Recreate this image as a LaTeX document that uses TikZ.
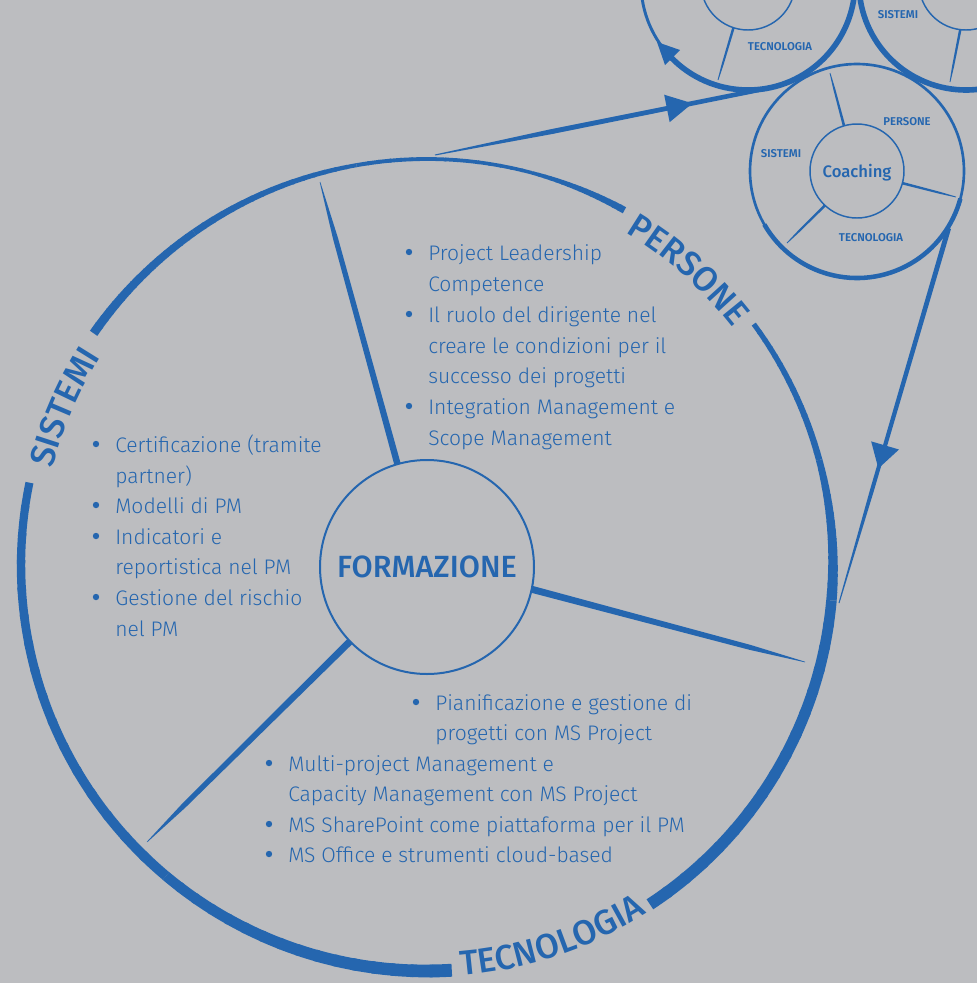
\documentclass[tikz,border=0pt]{standalone}
\usepackage{fontspec}
\usetikzlibrary{calc,decorations.text}
\IfFontExistsTF{Fira Sans Light}{\setmainfont{Fira Sans Light}}{\setmainfont{Fira Sans}}
\IfFontExistsTF{Fira Sans Medium}{\newfontfamily\medfont{Fira Sans Medium}}{\newfontfamily\medfont{Fira Sans}}
\IfFontExistsTF{Fira Sans SemiBold}{\newfontfamily\boldfont{Fira Sans SemiBold}}{\newfontfamily\boldfont{Fira Sans Bold}}
\definecolor{bgc}{RGB}{188,189,192}
\definecolor{fc}{RGB}{37,102,175}
\newcommand\ringfont{\medfont\fontsize{26}{26}\selectfont\color{fc}}
% ring piece: start angle, end angle, start width, end width (px)
\newcommand\ringpiece[4]{%
  \foreach \k in {0,...,15}{%
    \pgfmathsetmacro\sa{#1+(#2-#1)*\k/16}%
    \pgfmathsetmacro\ea{#1+(#2-#1)*min(\k+1.15,16)/16}%
    \pgfmathsetmacro\lw{0.75*(#3+(#4-#3)*(\k+0.5)/16)}%
    \draw[fc, line width=\lw pt] ($(C)+(\sa:406)$) arc[start angle=\sa, end angle=\ea, radius=406];
  }}
% tapered stroke: A, B, width at A, width at fraction f, width at B (px), f
\newcommand\taper[6]{%
  \pgfmathsetmacro\wa{0.375*#3}\pgfmathsetmacro\wm{0.375*#4}\pgfmathsetmacro\wb{0.375*#5}%
  \coordinate (M) at ($(#1)!#6!(#2)$);
  \fill[fc] ($(#1)!\wa pt!90:(#2)$) -- ($(M)!\wm pt!90:(#2)$) -- ($(#2)!\wb pt!-90:(#1)$)
    -- ($(#2)!\wb pt!90:(#1)$) -- ($(M)!\wm pt!-90:(#2)$) -- ($(#1)!\wa pt!-90:(#2)$) -- cycle;}
% arrowhead on line A-B at fraction pos, length and width in px
\newcommand\arrowtri[5]{%
  \pgfmathsetmacro\al{0.75*#4}\pgfmathsetmacro\hw{0.375*#5}%
  \coordinate (T) at ($(#1)!#3!(#2)$);
  \coordinate (Bc) at ($(T)!\al pt!(#1)$);
  \fill[fc] (T) -- ($(Bc)!\hw pt!90:(T)$) -- ($(Bc)!\hw pt!-90:(T)$) -- cycle;}
\tikzset{
  body/.style={anchor=base west, inner sep=0pt, text=fc, font=\fontsize{15.8}{23}\selectfont},
  smalllbl/.style={inner sep=0pt, text=fc, font=\boldfont\fontsize{8.5}{10}\selectfont},
  bigcircle/.style={circle, draw=fc, inner sep=0pt, outer sep=0pt},
}
\begin{document}
\begin{tikzpicture}[x=0.75pt, y=0.75pt]
\useasboundingbox (0,0) rectangle (977,-983);
\fill[bgc] (0,0) rectangle (977,-983);
\clip (0,0) rectangle (977,-983);

% ---------- big ring ----------
\coordinate (C) at (427,-565);
\ringpiece{145.2}{125}{9}{7}
\ringpiece{125}{100}{7}{4}
\ringpiece{100}{75}{4}{3.5}
\ringpiece{75}{60.9}{3.5}{7}
\ringpiece{36.4}{15}{5}{6.5}
\ringpiece{15}{-5}{6.5}{10.5}
\ringpiece{-5}{-56.7}{10.5}{12}
\ringpiece{-86.5}{-130}{13}{10}
\ringpiece{-130}{-191.7}{10}{8}

% ring labels
\path[decorate, decoration={text along path, text={|\ringfont|SISTEMI}, text align=center}]
  ($(C)+(168:387)$) arc[start angle=168, end angle=145, radius=387];
\path[decorate, decoration={text along path, text={|\ringfont|PERSONE}, text align=center}]
  ($(C)+(64:387)$) arc[start angle=64, end angle=33, radius=387];
\path[decorate, decoration={text along path, text={|\ringfont|TECNOLOGIA}, text align=center}]
  ($(C)+(-88:412)$) arc[start angle=-88, end angle=-55, radius=412];

% ---------- centre ----------
\node[bigcircle, line width=1.5pt, minimum size=160.5pt, text=fc,
      font=\medfont\fontsize{23}{23}\selectfont] (form) at (427,-567) {FORMAZIONE};
\coordinate (s1) at (320,-182);
\coordinate (s2) at (805,-662);
\coordinate (s3) at (147,-842);
\taper{form.106}{s1}{6.5}{5}{0.6}{0.8}
\taper{form.-12}{s2}{7}{5}{0.6}{0.8}
\taper{form.-136}{s3}{7}{5}{0.6}{0.82}

% ---------- text blocks ----------
\foreach \yy/\tt [count=\n] in {260/{Project Leadership}, 291/{Competence}, 322/{Il ruolo del dirigente nel},
   353/{creare le condizioni per il}, 383/{successo dei progetti}, 414/{Integration Management e}, 445/{Scope Management}}
  \node[body] (pa\n) at (428,-\yy) {\tt};
\foreach \yy/\tt [count=\n] in {452/{Certificazione (tramite}, 483/{partner)}, 513/{Modelli di PM}, 544/{Indicatori e},
   574/{reportistica nel PM}, 605/{Gestione del rischio}, 636/{nel PM}}
  \node[body] (pb\n) at (115,-\yy) {\tt};
\foreach \xx/\yy/\tt [count=\n] in {435/710/{Pianificazione e gestione di}, 435/740/{progetti con MS Project},
   288/771/{Multi-project Management e}, 288/801/{Capacity Management con MS Project},
   288/832/{MS SharePoint come piattaforma per il PM}, 288/862/{MS Office e strumenti cloud-based}}
  \node[body] (pc\n) at (\xx,-\yy) {\tt};
\foreach \xx/\yy in {409/252, 409/314, 409/406, 96/444, 96/505, 96/536, 96/597, 416/702, 269/763, 269/824, 269/854}
  \fill[fc] (\xx,-\yy) circle[radius=3.2];

% ---------- small circles ----------
% top-left
\node[bigcircle, line width=2.2pt, minimum size=160.5pt] (tlout) at (748,17) {};
\draw[fc, line width=4.2pt] ($(tlout.center)+(-142:107)$) arc[start angle=-142, end angle=15, radius=107];
\node[bigcircle, line width=1.1pt, minimum size=70.5pt] (tlin) at (748,17) {};
\coordinate (tls) at (718,-80);
\taper{tlin.-108}{tls}{2.5}{2}{0.8}{0.7}
\node[smalllbl] (tllbl) at (780,-47) {TECNOLOGIA};
\fill[fc] (657,-42) -- (680,-50) -- (665,-65) -- cycle;
% top-right
\node[bigcircle, line width=2.2pt, minimum size=160.5pt] (trout) at (966,17) {};
\draw[fc, line width=4.2pt] ($(trout.center)+(175:107)$) arc[start angle=175, end angle=300, radius=107];
\node[bigcircle, line width=1.1pt, minimum size=70.5pt] (trin) at (966,17) {};
\coordinate (trs) at (950,-82);
\taper{trin.-97}{trs}{2.5}{2}{0.8}{0.7}
\node[smalllbl] (trlbl) at (898,-15) {SISTEMI};
% coaching
\node[bigcircle, line width=2pt, minimum size=160.5pt] (coachout) at (857,-171) {};
\draw[fc, line width=3.4pt] ($(coachout.center)+(-150:107)$) arc[start angle=-150, end angle=-15, radius=107];
\node[bigcircle, line width=1.1pt, minimum size=70.5pt, text=fc, text depth=0pt,
      font=\medfont\fontsize{12.5}{14}\selectfont] (coach) at (857,-171) {Coaching};
\coordinate (cs1) at (830,-73);
\coordinate (cs2) at (956,-197);
\coordinate (cs3) at (787,-243);
\taper{coach.106}{cs1}{2.6}{2}{0.8}{0.7}
\taper{coach.-15}{cs2}{2.6}{2}{0.8}{0.7}
\taper{coach.-133}{cs3}{2.6}{2}{0.8}{0.7}
\node[smalllbl] (cl1) at (907,-122) {PERSONE};
\node[smalllbl] (cl2) at (781,-154) {SISTEMI};
\node[smalllbl] (cl3) at (871,-238) {TECNOLOGIA};

% ---------- connectors ----------
\coordinate (ta) at (435,-155);
\coordinate (tb) at ($(tlout.center)+(-79:107)$);
\taper{ta}{tb}{1}{5}{4.5}{0.35}
\arrowtri{ta}{tb}{0.772}{26}{28}
\coordinate (da) at ($(coachout.center)+(-32:108)$);
\coordinate (db) at (839,-603);
\taper{da}{db}{5}{4}{1}{0.7}
\arrowtri{da}{db}{0.641}{24}{29}
\end{tikzpicture}
\end{document}
